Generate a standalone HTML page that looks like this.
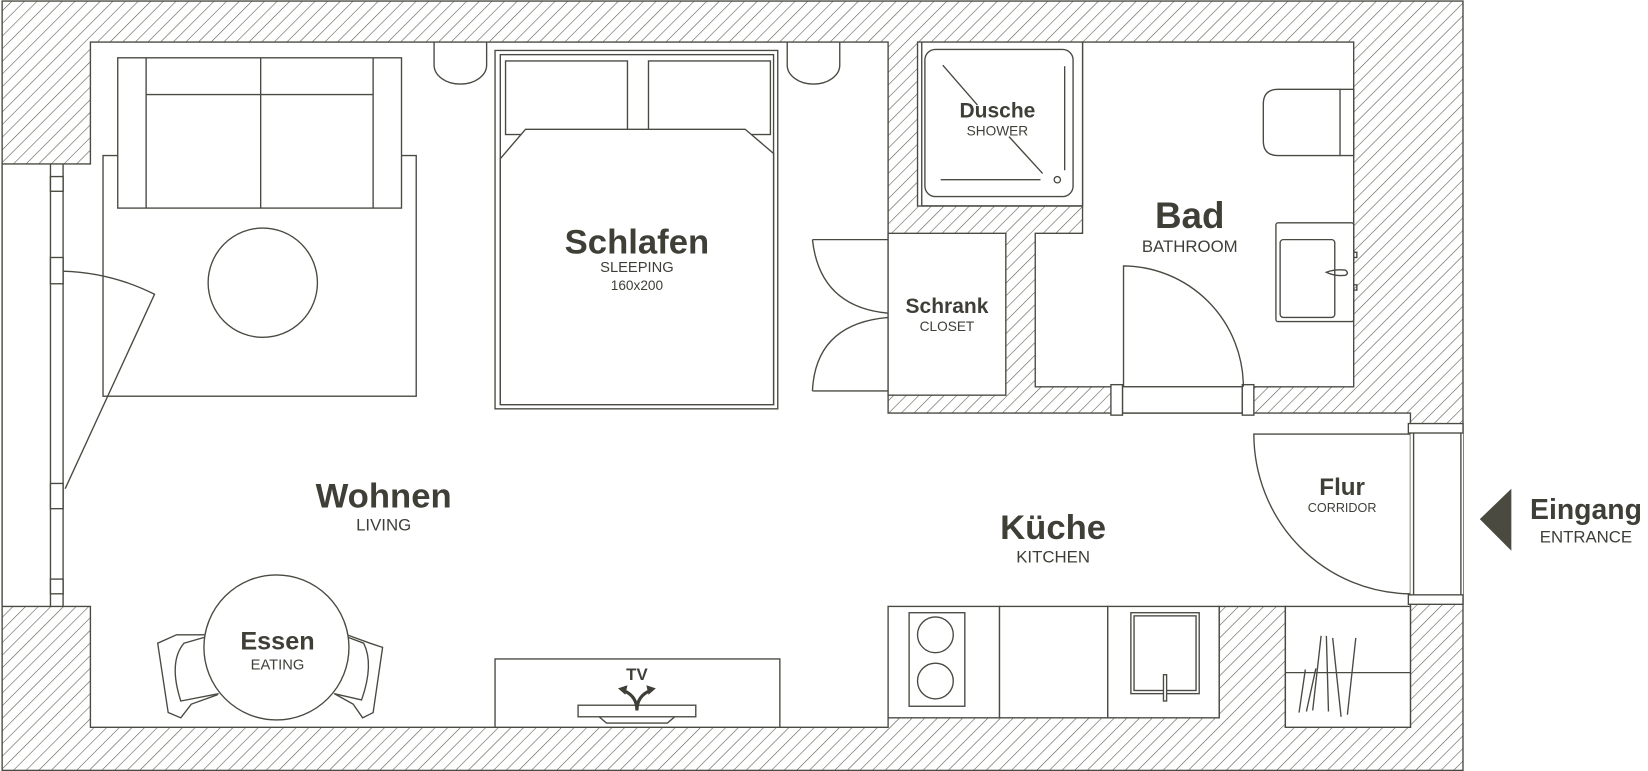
<!DOCTYPE html>
<html><head><meta charset="utf-8"><style>
html,body{margin:0;padding:0;background:#fff;}
svg{display:block;}
text{font-family:"Liberation Sans",sans-serif;fill:#3f3f37;text-anchor:middle;}
.b{font-weight:bold;}
</style></head><body>
<svg width="1648" height="771" viewBox="0 0 1568 733.6" xmlns="http://www.w3.org/2000/svg">
<defs>
<pattern id="h" patternUnits="userSpaceOnUse" width="8.5" height="8.5" patternTransform="rotate(45)">
<rect width="8.5" height="8.5" fill="#fff"/>
<line x1="0" y1="0" x2="0" y2="8.5" stroke="#5a5a50" stroke-width="1.1"/>
</pattern>
</defs>
<g stroke="#4a4a42" stroke-width="1.3" fill="none">
<rect x="2" y="1" width="1390" height="732" fill="url(#h)"/>
<path fill="#fff" d="M86,40 H845 V393 H1342 V577 H1342 V692 H1223 V577 H1160 V683 H845 V692 H86 V577 H2 V156 H86 Z"/>
<path fill="#fff" d="M1030,40 H1288 V368 H985 V222 H1030 Z"/>
<rect x="873" y="40" width="157" height="156" fill="#fff"/>
<line x1="877" y1="40" x2="877" y2="196"/>
<line x1="877" y1="196" x2="1030" y2="196"/>
<rect x="880" y="47" width="141" height="140" rx="10" fill="#fff"/>
<line x1="897" y1="62" x2="930" y2="100"/>
<line x1="960" y1="130" x2="992" y2="165"/>
<line x1="895" y1="171" x2="990" y2="171"/>
<line x1="1013" y1="63" x2="1013" y2="162"/>
<circle cx="1006" cy="171" r="3"/>
<rect x="845" y="222" width="112" height="154" fill="#fff"/>
<path d="M773,228 H845 M773,228 Q780,292 845,298"/>
<path d="M773,372 H845 M773,372 Q776,308 845,302"/>
<rect x="1068" y="368" width="114" height="25" fill="#fff"/>
<rect x="1057" y="366" width="11" height="29" fill="#fff"/>
<rect x="1182" y="366" width="11" height="29" fill="#fff"/>
<path d="M1069,368 V253 A115,115 0 0 1 1183,368"/>
<rect x="1342" y="403" width="50" height="172" fill="#fff" stroke="none"/>
<line x1="1345" y1="412" x2="1345" y2="566"/>
<line x1="1390" y1="412" x2="1390" y2="566"/>
<rect x="1340" y="403" width="52" height="9" fill="#fff"/>
<rect x="1340" y="566" width="52" height="9" fill="#fff"/>
<path d="M1342,413 H1193 A150,152 0 0 0 1342,565"/>
<rect x="1275" y="85" width="13" height="63" fill="#fff"/>
<path d="M1275,85 H1216 Q1202,85 1202,99 V134 Q1202,148 1216,148 H1275"/>
<rect x="1214" y="212" width="74" height="94" rx="2" fill="#fff"/>
<rect x="1218" y="228" width="52" height="74" rx="3"/>
<path d="M1262,259 Q1270,256 1280,257 Q1284,260 1280,262 Q1270,263 1262,259 Z"/>
<rect x="1288" y="240" width="3" height="5"/><rect x="1288" y="271" width="3" height="5"/>
<line x1="48" y1="156" x2="48" y2="577"/>
<line x1="60" y1="156" x2="60" y2="577"/>
<rect x="48" y="168" width="12" height="14" fill="#fff"/>
<rect x="48" y="245" width="12" height="25" fill="#fff"/>
<rect x="48" y="460" width="12" height="24" fill="#fff"/>
<rect x="48" y="551" width="12" height="14" fill="#fff"/>
<rect x="98" y="148" width="298" height="229"/>
<rect x="112" y="55" width="270" height="143" fill="#fff"/>
<line x1="139" y1="55" x2="139" y2="198"/>
<line x1="355" y1="55" x2="355" y2="198"/>
<line x1="139" y1="90" x2="355" y2="90"/>
<line x1="248" y1="55" x2="248" y2="198"/>
<circle cx="250" cy="269" r="52"/>
<path d="M60,258 A207,207 0 0 1 147,280 L62,465"/>
<path d="M413,40 V62 A25,18 0 0 0 463,62 V40"/>
<path d="M749,40 V62 A25,18 0 0 0 799,62 V40"/>
<rect x="471" y="48" width="269" height="341"/>
<rect x="476" y="52" width="260" height="333"/>
<rect x="481" y="58" width="116" height="70"/>
<rect x="617" y="58" width="116" height="70"/>
<path d="M476,151 L500,123 H709 L736,146 V385 H476 Z" fill="#fff"/>
<rect x="845" y="577" width="106" height="106" fill="#fff"/>
<rect x="951" y="577" width="103" height="106" fill="#fff"/>
<rect x="1054" y="577" width="106" height="106" fill="#fff"/>
<rect x="865" y="583" width="53" height="89"/>
<circle cx="890" cy="604" r="17"/><circle cx="890" cy="648" r="17"/>
<rect x="1076" y="583" width="65" height="77"/>
<rect x="1079" y="586" width="59" height="71"/>
<rect x="1107" y="642" width="3" height="25" fill="#fff"/>
<rect x="1223" y="577" width="119" height="115" fill="#fff"/>
<line x1="1223" y1="640" x2="1342" y2="640"/>
<path d="M1242,637 L1236,678 M1252,636 L1243,677 M1257,605 L1249,676 M1262,605 L1264,677 M1268,607 L1276,682 M1290,607 L1282,680"/>
<rect x="471" y="627" width="271" height="65" fill="#fff"/>
<rect x="550" y="671" width="112" height="11"/>
<path d="M570,682 L577,688 H635 L642,682"/>
<path d="M197,604 L168,604 L150,612 L160,678 L172,683 L182,670 L207,661" fill="#fff"/>
<path d="M196,606 L175,612 Q160,630 172,667 L208,660"/>
<path d="M330,604 L352,612 L364,616 L355,678 L345,683 L336,670 L318,660" fill="#fff"/>
<path d="M330,606 L346,612 Q356,632 344,666 L318,660"/>
<ellipse cx="263" cy="616" rx="69" ry="69" fill="#fff"/>
</g>
<g stroke="#3f3f37" stroke-width="3" fill="none">
<path d="M606,676 Q606,662 593,657 M606,676 Q606,662 619,657"/>
</g>
<path d="M588,655 L597,652 L595,661 Z M624,655 L615,652 L617,661 Z" fill="#3f3f37"/>
<path d="M1438,465 L1438,524 L1408,494 Z" fill="#4a4a40"/>
<text x="606" y="241" class="b" font-size="33">Schlafen</text>
<text x="606" y="259" font-size="14">SLEEPING</text>
<text x="606" y="276" font-size="13">160x200</text>
<text x="949" y="112" class="b" font-size="20">Dusche</text>
<text x="949" y="129" font-size="13">SHOWER</text>
<text x="1132" y="217" class="b" font-size="35">Bad</text>
<text x="1132" y="240" font-size="16">BATHROOM</text>
<text x="901" y="298" class="b" font-size="20">Schrank</text>
<text x="901" y="315" font-size="13">CLOSET</text>
<text x="365" y="483" class="b" font-size="33">Wohnen</text>
<text x="365" y="505" font-size="16">LIVING</text>
<text x="1002" y="513" class="b" font-size="33">Küche</text>
<text x="1002" y="535" font-size="16">KITCHEN</text>
<text x="1277" y="471" class="b" font-size="23">Flur</text>
<text x="1277" y="487" font-size="12">CORRIDOR</text>
<text x="1509" y="494" class="b" font-size="27">Eingang</text>
<text x="1509" y="516" font-size="16">ENTRANCE</text>
<text x="264" y="618" class="b" font-size="24">Essen</text>
<text x="264" y="637" font-size="14">EATING</text>
<text x="606" y="647" class="b" font-size="16">TV</text>
</svg>
</body></html>
